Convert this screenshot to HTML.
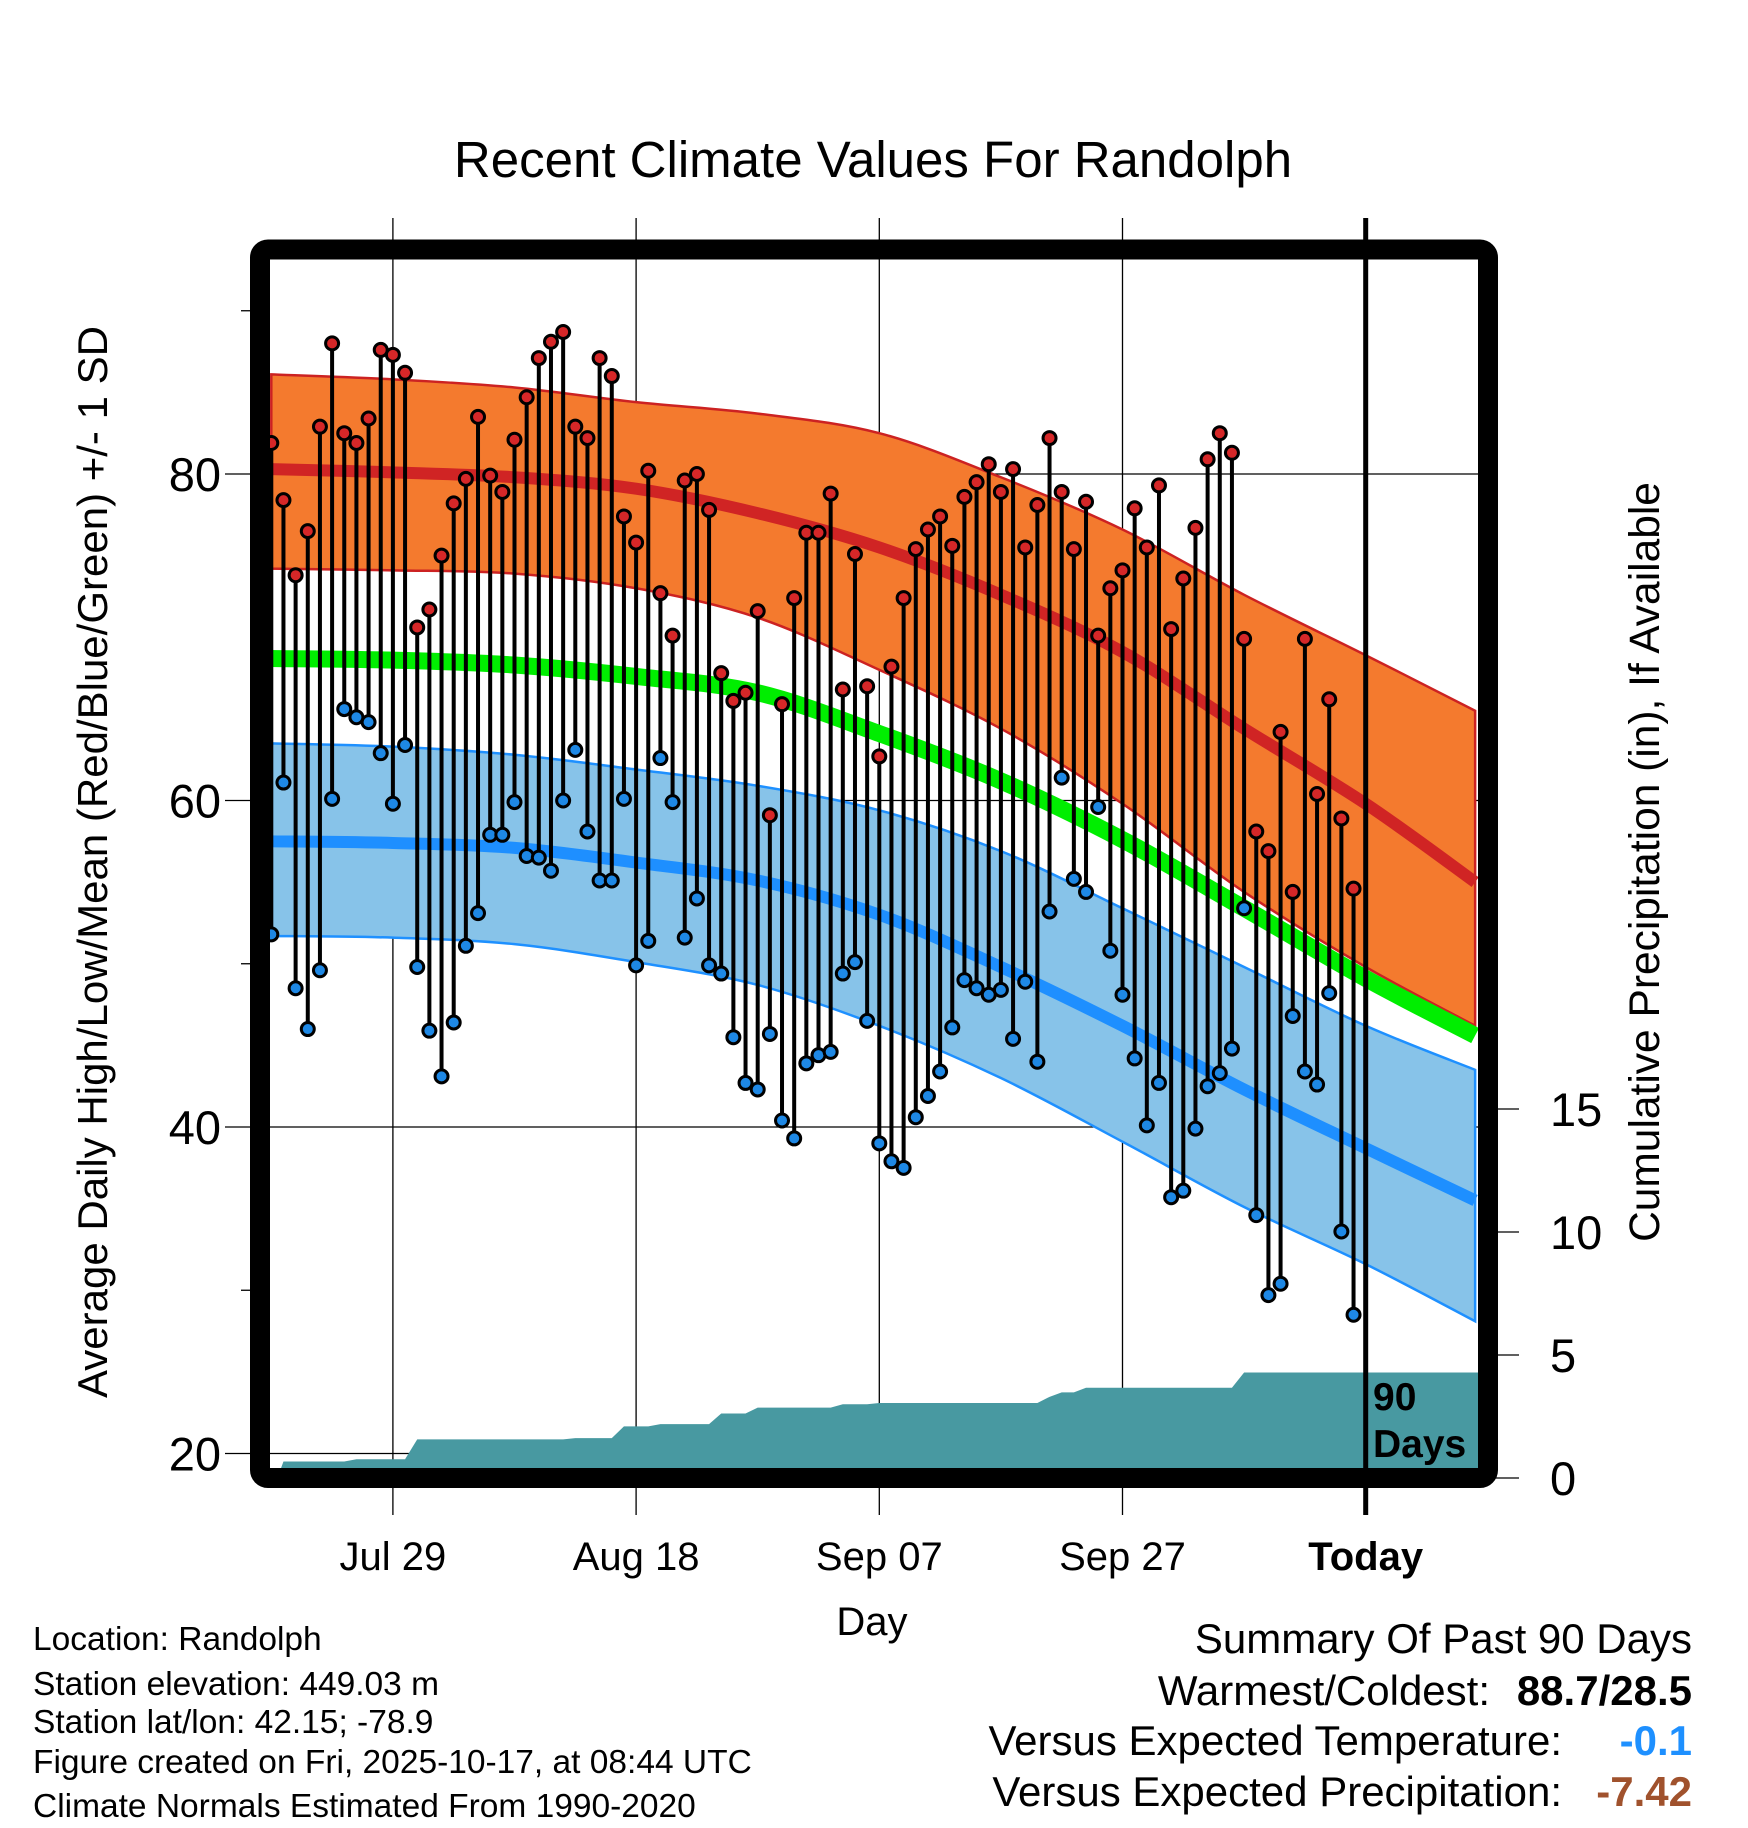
<!DOCTYPE html>
<html><head><meta charset="utf-8"><style>
html,body{margin:0;padding:0;background:#fff;}
svg{display:block;font-family:"Liberation Sans",Arial,sans-serif;}
</style></head><body>
<svg id="chart" width="1748" height="1828" viewBox="0 0 1748 1828" xmlns="http://www.w3.org/2000/svg">
<defs><clipPath id="plotclip"><rect x="270" y="260" width="1208" height="1208"/></clipPath></defs>
<text x="873" y="177" font-size="51" text-anchor="middle">Recent Climate Values For Randolph</text>
<g id="grid"></g>
<g id="plot" clip-path="url(#plotclip)"></g>
<g id="axes"></g>
<rect x="260" y="249.5" width="1228" height="1228.5" rx="8" fill="none" stroke="#000" stroke-width="20"/>
<text transform="translate(107,862) rotate(-90)" font-size="42" text-anchor="middle">Average Daily High/Low/Mean (Red/Blue/Green) +/- 1 SD</text>
<text transform="translate(1659,862) rotate(-90)" font-size="42.5" text-anchor="middle">Cumulative Precipitation (in), If Available</text>
<text x="872" y="1635" font-size="40" text-anchor="middle">Day</text>
<text x="1373" y="1410" font-size="39" font-weight="bold">90</text>
<text x="1373" y="1457" font-size="39" font-weight="bold">Days</text>
<g font-size="33.5">
<text x="33" y="1650">Location: Randolph</text>
<text x="33" y="1695">Station elevation: 449.03 m</text>
<text x="33" y="1733">Station lat/lon: 42.15; -78.9</text>
<text x="33" y="1773">Figure created on Fri, 2025-10-17, at 08:44 UTC</text>
<text x="33" y="1817">Climate Normals Estimated From 1990-2020</text>
</g>
<g font-size="42">
<text x="1692" y="1653" text-anchor="end">Summary Of Past 90 Days</text>
<text x="1490" y="1705" text-anchor="end">Warmest/Coldest:</text>
<text x="1692" y="1705" text-anchor="end" font-weight="bold">88.7/28.5</text>
<text x="1562" y="1755" text-anchor="end">Versus Expected Temperature:</text>
<text x="1692" y="1755" text-anchor="end" font-weight="bold" fill="#1e90ff">-0.1</text>
<text x="1562" y="1806" text-anchor="end">Versus Expected Precipitation:</text>
<text x="1692" y="1806" text-anchor="end" font-weight="bold" fill="#a0522d">-7.42</text>
</g>
</svg>
<script>
const highs=[81.9,78.4,73.8,76.5,82.9,88.0,82.5,81.9,83.4,87.6,87.3,86.2,70.6,71.7,75.0,78.2,79.7,83.5,79.9,78.9,82.1,84.7,87.1,88.1,88.7,82.9,82.2,87.1,86.0,77.4,75.8,80.2,72.7,70.1,79.6,80.0,77.8,67.8,66.1,66.6,71.6,59.1,65.9,72.4,76.4,76.4,78.8,66.8,75.1,67.0,62.7,68.2,72.4,75.4,76.6,77.4,75.6,78.6,79.5,80.6,78.9,80.3,75.5,78.1,82.2,78.9,75.4,78.3,70.1,73.0,74.1,77.9,75.5,79.3,70.5,73.6,76.7,80.9,82.5,81.3,69.9,58.1,56.9,64.2,54.4,69.9,60.4,66.2,58.9,54.6];
const lows=[51.8,61.1,48.5,46.0,49.6,60.1,65.6,65.1,64.8,62.9,59.8,63.4,49.8,45.9,43.1,46.4,51.1,53.1,57.9,57.9,59.9,56.6,56.5,55.7,60.0,63.1,58.1,55.1,55.1,60.1,49.9,51.4,62.6,59.9,51.6,54.0,49.9,49.4,45.5,42.7,42.3,45.7,40.4,39.3,43.9,44.4,44.6,49.4,50.1,46.5,39.0,37.9,37.5,40.6,41.9,43.4,46.1,49.0,48.5,48.1,48.4,45.4,48.9,44.0,53.2,61.4,55.2,54.4,59.6,50.8,48.1,44.2,40.1,42.7,35.7,36.1,39.9,42.5,43.3,44.8,53.4,34.6,29.7,30.4,46.8,43.4,42.6,48.2,33.6,28.5];
const normDays=[0,10,20,30,40,50,60,70,80,90,99];
const highMean=[80.3,80.1,79.8,79.1,77.6,75.5,72.6,69.1,64.4,59.8,55.0];
const highUpper=[86.1,85.8,85.3,84.4,83.7,82.5,79.8,76.6,72.6,68.9,65.5];
const highLower=[74.2,74.1,73.9,73.0,71.2,68.0,64.4,59.8,54.4,49.8,46.2];
const meanNorm=[68.7,68.6,68.3,67.6,66.6,64.1,61.2,57.6,53.4,49.1,45.6];
const lowMean=[57.5,57.4,57.1,56.2,55.1,53.0,49.8,46.2,42.3,38.7,35.5];
const lowUpper=[63.5,63.3,62.8,61.9,60.9,59.4,56.9,53.4,49.8,46.2,43.5];
const lowLower=[51.7,51.6,51.2,50.1,48.7,46.2,43.0,39.1,35.1,31.6,28.1];
const precipDays=[1,7,12,25,29,32,37,40,47,50,64,65,67,80];
const precipAmt=[0.67,0.09,0.81,0.05,0.48,0.09,0.43,0.24,0.14,0.05,0.25,0.18,0.19,0.62];
const xTickDays=[10,30,50,70,90];
const xTickLabels=["Jul 29","Aug 18","Sep 07","Sep 27","Today"];
const yTicks=[20,40,60,80];
const yMinorTicks=[30,50,90];
const pTicks=[0,5,10,15];

const NS="http://www.w3.org/2000/svg";
const X=d=>271.3+d*12.16;
const Y=t=>474+(80-t)*16.325;
const P=p=>1478-p*24.6;
function mk(tag,attrs,parent){const e=document.createElementNS(NS,tag);for(const k in attrs)e.setAttribute(k,attrs[k]);parent.appendChild(e);return e;}
function pts(arr){return normDays.map((d,i)=>[X(d),Y(arr[i])]);}
function smooth(p){let s="M"+p[0][0]+","+p[0][1];for(let i=0;i<p.length-1;i++){const p0=p[Math.max(i-1,0)],p1=p[i],p2=p[i+1],p3=p[Math.min(i+2,p.length-1)];const c1=[p1[0]+(p2[0]-p0[0])/6,p1[1]+(p2[1]-p0[1])/6],c2=[p2[0]-(p3[0]-p1[0])/6,p2[1]-(p3[1]-p1[1])/6];s+=" C"+c1[0]+","+c1[1]+" "+c2[0]+","+c2[1]+" "+p2[0]+","+p2[1];}return s;}
function band(up,lo){const a=pts(up),b=pts(lo).reverse();return smooth(a)+" L"+smooth(b).slice(1)+" Z";}
const plot=document.getElementById('plot'),grid=document.getElementById('grid'),axes=document.getElementById('axes');

xTickDays.forEach((d,i)=>{const l=mk('line',{x1:X(d),x2:X(d),y1:218,y2:1515,stroke:'#000','stroke-width':1.3},grid);


const t=mk('text',{x:X(d),y:1570,'font-size':40,'text-anchor':'middle'},axes);t.textContent=xTickLabels[i];
if(i===4)t.setAttribute('font-weight','bold');

});
yTicks.forEach(v=>{const l=mk('line',{x1:225,x2:1478,y1:Y(v),y2:Y(v),stroke:'#000','stroke-width':1.3},grid);


const t=mk('text',{x:221,y:Y(v)+17,'font-size':47,'text-anchor':'end'},axes);t.textContent=v;

});
yMinorTicks.forEach(v=>{const l=mk('line',{x1:241,x2:252,y1:Y(v),y2:Y(v),stroke:'#000','stroke-width':1.3},axes);

});
pTicks.forEach(v=>{const l=mk('line',{x1:1490,x2:1519,y1:P(v),y2:P(v),stroke:'#000','stroke-width':1.3},axes);


const t=mk('text',{x:1550,y:P(v)+17,'font-size':47},axes);t.textContent=v;

});

let e;
e=mk('path',{d:band(highUpper,highLower),fill:'#f47a2e',stroke:'#cc2222','stroke-width':2.5},plot);


e=mk('path',{d:band(lowUpper,lowLower),fill:'#87c3e9',stroke:'#1e90ff','stroke-width':2.5},plot);


e=mk('path',{d:smooth(pts(meanNorm)),fill:'none',stroke:'#00ee00','stroke-width':17},plot);


e=mk('path',{d:smooth(pts(highMean)),fill:'none',stroke:'#d02424','stroke-width':12},plot);


e=mk('path',{d:smooth(pts(lowMean)),fill:'none',stroke:'#1e8fff','stroke-width':12},plot);



let cum=0,cumArr=[];for(let d=0;d<=99;d++){const k=precipDays.indexOf(d);if(k>=0)cum+=precipAmt[k];cumArr.push(cum);}
let pd="M"+X(0.5)+","+P(0);for(let d=1;d<=99;d++)pd+=" L"+X(d)+","+P(cumArr[d]);pd+=" L"+X(100)+","+P(cumArr[99])+" L"+X(100)+","+P(0)+" Z";
e=mk('path',{d:pd,fill:'#4899a1'},plot);



e=mk('line',{x1:X(90),x2:X(90),y1:218,y2:1515,stroke:'#000','stroke-width':5},axes);



highs.forEach((h,d)=>{const l=lows[d];
const s=mk('line',{x1:X(d),x2:X(d),y1:Y(h),y2:Y(l),stroke:'#000','stroke-width':4},plot);

});
highs.forEach((h,d)=>{const l=lows[d];
const c1=mk('circle',{cx:X(d),cy:Y(h),r:6.5,fill:'#d62728',stroke:'#000','stroke-width':3},plot);


const c2=mk('circle',{cx:X(d),cy:Y(l),r:6.5,fill:'#1e88e5',stroke:'#000','stroke-width':3},plot);

});
</script>
</body></html>
